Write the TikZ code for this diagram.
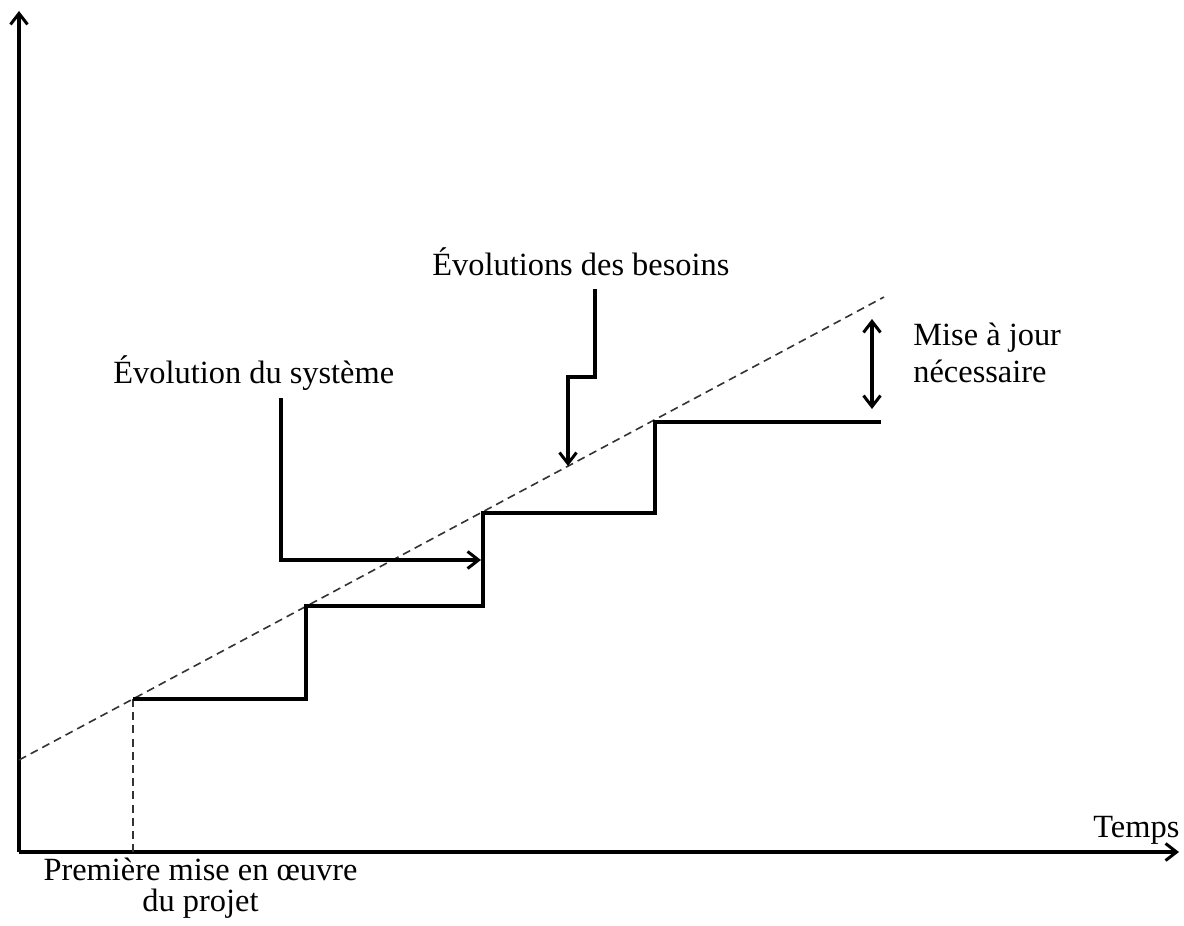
\documentclass[tikz,border=0pt]{standalone}
\usepackage{fontspec}
\setmainfont{Liberation Serif}
\usetikzlibrary{arrows.meta}
\begin{document}
\begin{tikzpicture}[x=0.5pt,y=-0.5pt,
  barb/.style={Straight Barb[length=5.5pt,width=8.5pt,line width=1.5pt]},
  axis/.style={line width=1.8pt,-{Straight Barb[length=5.5pt,width=8.5pt,line width=1.5pt]}},
  trend/.style={line width=0.8pt,dash pattern=on 4pt off 2.6pt,color=black!80},
  stairs/.style={line width=1.6pt},
  pointer/.style={line width=1.6pt,-{Straight Barb[length=5.5pt,width=8.5pt,line width=1.5pt]}},
  both/.style={line width=1.6pt,{Straight Barb[length=5.5pt,width=8.5pt,line width=1.5pt]}-{Straight Barb[length=5.5pt,width=8.5pt,line width=1.5pt]}},
  lbl/.style={inner sep=0pt,font=\fontsize{16.2pt}{19pt}\selectfont}]
\useasboundingbox (0,0) rectangle (1184,926);

% axes
\coordinate (O) at (19,852);
\coordinate (ytop) at (19,11);
\coordinate (xend) at (1179,852);
\draw[axis] (O) -- (ytop);
\draw[axis] (O) -- (xend);

% requirements trend line and start marker
\coordinate (t0) at (19,760);
\coordinate (t1) at (884,297);
\coordinate (s0) at (133,699);
\coordinate (s0b) at (133,852);
\draw[trend] (t0) -- (t1);
\draw[trend] (s0) -- (s0b);

% system evolution steps
\coordinate (a1) at (306,699);
\coordinate (a2) at (306,606);
\coordinate (a3) at (483,606);
\coordinate (a4) at (483,513);
\coordinate (a5) at (655,513);
\coordinate (a6) at (655,422);
\coordinate (a7) at (881,422);
\draw[stairs] (s0) -- (a1) -- (a2) -- (a3) -- (a4) -- (a5) -- (a6) -- (a7);

% labels
\node[lbl,anchor=base west] (sys) at (113,383) {Évolution du système};
\node[lbl,anchor=base west] (bes) at (432,275) {Évolutions des besoins};
\node[lbl,anchor=base west] (temps) at (1093,837) {Temps};
\node[lbl,anchor=base west] (maj1) at (913,345) {Mise à jour};
\node[lbl,anchor=base west] (maj2) at (913,382) {nécessaire};
\node[lbl,anchor=base] (prem1) at (200.5,880) {Première mise en œuvre};
\node[lbl,anchor=base] (prem2) at (200.5,911) {du projet};

% pointers
\coordinate (p1) at (281,398);
\coordinate (p2) at (281,560);
\coordinate (p3) at (481,560);
\draw[pointer] (p1) -- (p2) -- (p3);

\coordinate (q1) at (595,289);
\coordinate (q2) at (595,377);
\coordinate (q3) at (568,377);
\coordinate (q4) at (568,466);
\draw[pointer] (q1) -- (q2) -- (q3) -- (q4);

\coordinate (g1) at (872,319);
\coordinate (g2) at (872,409);
\draw[both] (g1) -- (g2);
\end{tikzpicture}
\end{document}
